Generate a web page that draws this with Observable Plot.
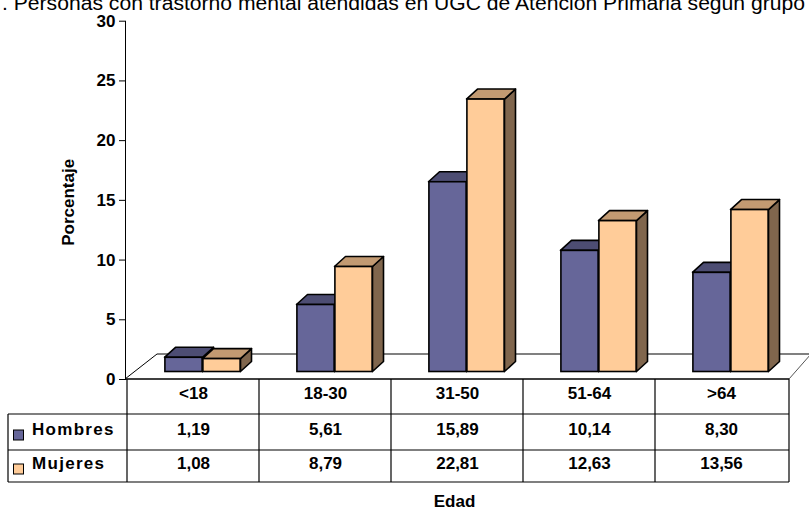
<!DOCTYPE html>
<html>
<head>
<meta charset="utf-8">
<script src="https://cdn.jsdelivr.net/npm/d3@7"></script>
<script src="https://cdn.jsdelivr.net/npm/@observablehq/plot@0.6"></script>
<style>
  html, body { margin: 0; padding: 0; background: #fff; }
  #wrap { position: relative; width: 809px; height: 510px; overflow: hidden; background: #fff; }
  #title { position: absolute; left: 0; top: 0; }
</style>
</head>
<body>
<div id="wrap">
  <div id="chart"></div>
  <svg id="title" width="809" height="15"></svg>
</div>
<script>
// ---- data ----
const ageGroups = ["<18", "18-30", "31-50", "51-64", ">64"];
const hombres = [1.19, 5.61, 15.89, 10.14, 8.30];
const mujeres = [1.08, 8.79, 22.81, 12.63, 13.56];
const seriesNames = ["Hombres", "Mujeres"];
const yTicks = [0, 5, 10, 15, 20, 25, 30];
const titleText = ". Personas con trastorno mental atendidas en UGC de Atención Primaria según grupo";
const yLabel = "Porcentaje";
const xLabel = "Edad";

// ---- layout / style ----
const W = 809, H = 510;
const M = {left: 125, right: 20, top: 20.7, bottom: 131};
const bw = (W - M.left - M.right) / ageGroups.length;
const BAR = {w: 38, shift: 9.5, lift: -7.5};
const DEPTH = {dx: 11, dy: -10};
const FLOOR = {dxL: 32, dxR: 22, dy: -25};
const ROW = {header: 35, h: 36, m: 32};
const colors = {
  Hombres: {front: "#666699", top: "#4d4d73", side: "#3d3d5c"},
  Mujeres: {front: "#ffcc99", top: "#c29a72", side: "#80664d"}
};
const FONT = "'Liberation Sans', Arial, Helvetica, sans-serif";

const fmt = v => v.toFixed(2).replace(".", ",");
const rows = ageGroups.map((g, i) => ({g, h: hombres[i], m: mujeres[i]}));

// 3D top and side faces of one series' bars, placed with the plot's scales
function faces(series, values) {
  return (index, scales) => {
    const x = scales.x, y = scales.y;
    const band = x.bandwidth ? x.bandwidth() : bw;
    const g = d3.create("svg:g")
      .attr("stroke", "#000").attr("stroke-width", 1.6).attr("stroke-linejoin", "round");
    ageGroups.forEach((cat, i) => {
      const c = x(cat) + band / 2 + BAR.shift;
      const x0 = series === "Hombres" ? c - BAR.w : c;
      const x1 = x0 + BAR.w;
      const yt = y(values[i]) + BAR.lift;
      const yb = y(0) + BAR.lift;
      const {dx, dy} = DEPTH;
      g.append("path")
        .attr("d", `M${x1},${yt}L${x1 + dx},${yt + dy}L${x1 + dx},${yb + dy}L${x1},${yb}Z`)
        .attr("fill", colors[series].side);
      g.append("path")
        .attr("d", `M${x0},${yt}L${x0 + dx},${yt + dy}L${x1 + dx},${yt + dy}L${x1},${yt}Z`)
        .attr("fill", colors[series].top);
    });
    return g.node();
  };
}

// floor of the 3D box
function floorMark(index, scales, values, dims) {
  const y = scales.y;
  const left = dims.marginLeft, right = dims.width - dims.marginRight;
  const y0 = y(0), yB = y0 + FLOOR.dy;
  const g = d3.create("svg:g").attr("fill", "none");
  g.append("path").attr("d", `M${left + FLOOR.dxL},${yB}L${dims.width + 5},${yB}`)
    .attr("stroke", "#808080").attr("stroke-width", 2);
  g.append("path").attr("d", `M${left},${y0}L${left + FLOOR.dxL},${yB}`)
    .attr("stroke", "#000").attr("stroke-width", 1);
  g.append("path").attr("d", `M${right},${y0}L${right + FLOOR.dxR},${yB}`)
    .attr("stroke", "#555").attr("stroke-width", 1);
  return g.node();
}

// data table grid below the plot
function tableGrid(index, scales, values, dims) {
  const x = scales.x;
  const left = dims.marginLeft, right = dims.width - dims.marginRight;
  const y0 = scales.y(0);
  const r1 = y0 + ROW.header, r2 = r1 + ROW.h, r3 = r2 + ROW.m;
  const legendLeft = 8;
  const g = d3.create("svg:g").attr("stroke", "#000").attr("fill", "none").attr("stroke-width", 1.2);
  g.append("path").attr("d", `M${left},${y0}H${right}`).attr("stroke-width", 1.6);
  [r1, r2].forEach(r => g.append("path").attr("d", `M${legendLeft},${r}H${right}`));
  g.append("path").attr("d", `M${legendLeft},${r3}H${right}`).attr("stroke", "#555").attr("stroke-width", 1.6);
  ageGroups.forEach(cat => g.append("path").attr("d", `M${x(cat)},${y0}V${r3}`));
  g.append("path").attr("d", `M${right},${y0}V${r3}`);
  g.append("path").attr("d", `M${legendLeft},${r1}V${r3}`);
  // legend swatches
  seriesNames.forEach((s, i) => {
    const cy = i === 0 ? r1 + 21 : r2 + 19;
    g.append("rect").attr("x", 13.5).attr("y", cy - 5).attr("width", 10).attr("height", 10)
      .attr("fill", colors[s].front).attr("stroke", "#000").attr("stroke-width", 1);
  });
  return g.node();
}

const barCommon = {
  y1: 0, stroke: "#000", strokeWidth: 1.6,
  insetLeft: (bw - BAR.w) / 2, insetRight: (bw - BAR.w) / 2, dy: BAR.lift
};

const chart = Plot.plot({
  width: W,
  height: H,
  marginLeft: M.left,
  marginRight: M.right,
  marginTop: M.top,
  marginBottom: M.bottom,
  style: {fontFamily: FONT, fontSize: "17px", fontWeight: "bold", color: "#000", background: "transparent", overflow: "visible"},
  x: {domain: ageGroups, axis: null, paddingInner: 0, paddingOuter: 0},
  y: {domain: [0, 30], ticks: yTicks, tickSize: 6, tickPadding: 4, line: true, label: null},
  marks: [
    floorMark,
    faces("Hombres", hombres),
    Plot.barY(rows, {...barCommon, x: "g", y2: "h", fill: colors.Hombres.front, dx: BAR.shift - BAR.w / 2}),
    faces("Mujeres", mujeres),
    Plot.barY(rows, {...barCommon, x: "g", y2: "m", fill: colors.Mujeres.front, dx: BAR.shift + BAR.w / 2}),
    tableGrid,
    Plot.text(ageGroups, {x: d => d, text: d => d, frameAnchor: "bottom", dy: ROW.header / 2 + 1.5}),
    Plot.text(rows, {x: "g", text: d => fmt(d.h), frameAnchor: "bottom", dy: ROW.header + ROW.h / 2 + 2}),
    Plot.text(rows, {x: "g", text: d => fmt(d.m), frameAnchor: "bottom", dy: ROW.header + ROW.h + ROW.m / 2 + 2.5}),
    Plot.text([seriesNames[0]], {text: d => d, frameAnchor: "bottom-left", textAnchor: "start", dx: 31.5 - M.left, dy: ROW.header + ROW.h / 2 + 2}),
    Plot.text([seriesNames[1]], {text: d => d, frameAnchor: "bottom-left", textAnchor: "start", dx: 31.5 - M.left, dy: ROW.header + ROW.h + ROW.m / 2 + 2.5}),
    Plot.text([yLabel], {text: d => d, frameAnchor: "left", textAnchor: "middle", dx: -57, dy: 2, rotate: -90}),
    Plot.text([xLabel], {text: d => d, frameAnchor: "bottom", textAnchor: "middle", dx: -3, dy: 127})
  ]
});
document.getElementById("chart").appendChild(chart);

// wider letter spacing on the legend labels, as in the reference
d3.select(chart).selectAll("text")
  .filter(function() { return seriesNames.includes(this.textContent); })
  .attr("letter-spacing", "1.3px");

// title (clipped at the top of the page, as in the reference)
d3.select("#title").append("text")
  .attr("x", 2).attr("y", 10)
  .attr("font-family", "'Liberation Sans Narrow', 'Arial Narrow', 'Liberation Sans', Arial, sans-serif")
  .attr("font-size", 20)
  .attr("textLength", 803)
  .attr("lengthAdjust", "spacingAndGlyphs")
  .attr("fill", "#000")
  .text(titleText);
</script>
</body>
</html>
